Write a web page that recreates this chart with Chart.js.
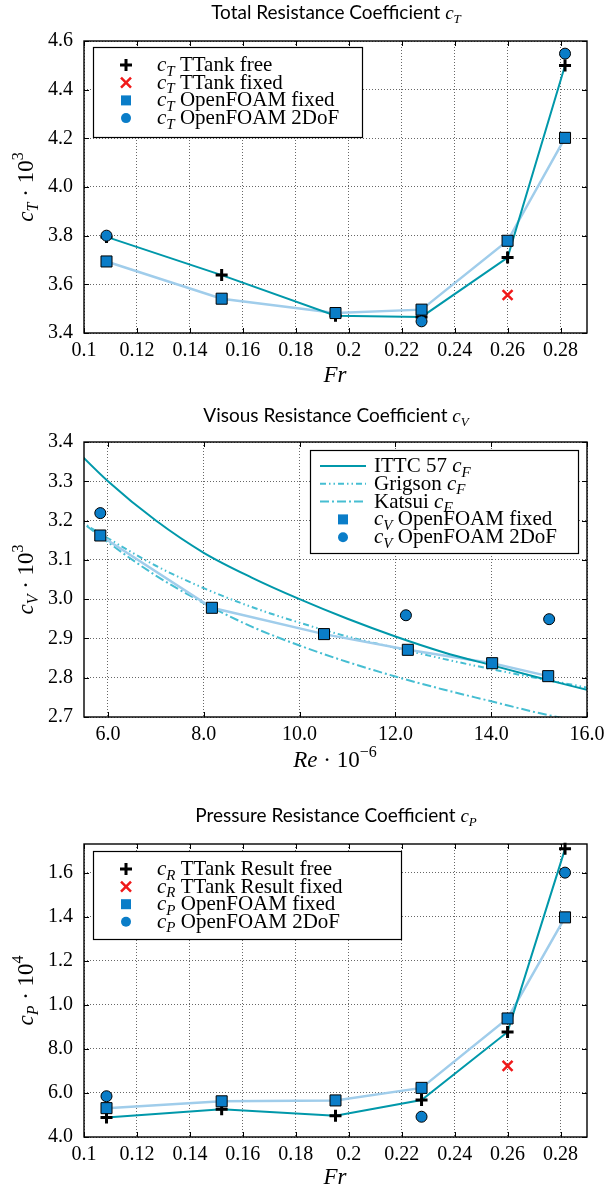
<!DOCTYPE html>
<html>
<head>
<meta charset="utf-8">
<script src="https://cdn.jsdelivr.net/npm/chart.js@4/dist/chart.umd.min.js"></script>
<style>
  body { margin: 0; background: #fff; width: 611px; height: 1189px; overflow: hidden; }
  canvas { display: block; }
</style>
</head>
<body>
<canvas id="ct" width="611" height="395"></canvas>
<canvas id="cv" width="611" height="395"></canvas>
<canvas id="cp" width="611" height="399"></canvas>
<script>
// --- data ---
const fr = [0.1085, 0.152, 0.195, 0.2275, 0.26, 0.2817];

// total resistance c_T * 10^3
const ctTankFree  = [3.795, 3.638, 3.471, 3.466, 3.710, 4.499];
const ctTankFixed = [null, null, null, null, 3.556, null];
const ctFoamFixed = [3.694, 3.541, 3.482, 3.496, 3.779, 4.202];
const ctFoam2DoF  = [3.800, null, null, 3.448, null, 4.548];

// viscous resistance c_V * 10^3 over Re * 10^-6
const reFoam      = [5.84, 8.17, 10.51, 12.26, 14.02, 15.19];
const cvFoamFixed = [3.162, 2.978, 2.911, 2.871, 2.837, 2.804];
const re2DoF      = [5.84, 12.22, 15.21];
const cvFoam2DoF  = [3.219, 2.959, 2.949];
const reCurve     = [5, 6, 7, 8, 9, 10, 11, 12, 13, 14, 15, 16];
const cfIttc      = [3.420, 3.300, 3.200, 3.118, 3.055, 3.000, 2.950, 2.905, 2.865, 2.832, 2.800, 2.769];
const cfGrigson   = [3.230, 3.155, 3.085, 3.028, 2.980, 2.940, 2.905, 2.876, 2.848, 2.822, 2.798, 2.775];
const cfKatsui    = [3.240, 3.145, 3.060, 2.990, 2.930, 2.882, 2.840, 2.803, 2.770, 2.740, 2.710, 2.685];

// pressure resistance c_P (axis labelled oddly in the original)
const cpTankFree  = [0.488, 0.526, 0.497, 0.568, 0.877, 1.708];
const cpTankFixed = [null, null, null, null, 0.723, null];
const cpFoamFixed = [0.531, 0.562, 0.566, 0.623, 0.938, 1.397];
const cpFoam2DoF  = [0.585, null, null, 0.492, null, 1.600];

// tick labels
const frTickLabels = ['0.1', '0.12', '0.14', '0.16', '0.18', '0.2', '0.22', '0.24', '0.26', '0.28'];
const ctTickLabels = ['3.4', '3.6', '3.8', '4.0', '4.2', '4.4', '4.6'];
const reTickLabels = ['6.0', '8.0', '10.0', '12.0', '14.0', '16.0'];
const cvTickLabels = ['2.7', '2.8', '2.9', '3.0', '3.1', '3.2', '3.3', '3.4'];
const cpTickValues = [0.4, 0.6, 0.8, 1.0, 1.2, 1.4, 1.6];
const cpTickLabels = ['4.0', '6.0', '8.0', '1.0', '1.2', '1.4', '1.6'];

// legend texts: [text, style] with i=italic, b=italic subscript, p=superscript, s=sans
const ctLegend = [
  [['c', 'i'], ['T', 'b'], [' TTank free', 'n']],
  [['c', 'i'], ['T', 'b'], [' TTank fixed', 'n']],
  [['c', 'i'], ['T', 'b'], [' OpenFOAM fixed', 'n']],
  [['c', 'i'], ['T', 'b'], [' OpenFOAM 2DoF', 'n']]
];
const cvLegend = [
  [['ITTC 57 ', 'n'], ['c', 'i'], ['F', 'b']],
  [['Grigson ', 'n'], ['c', 'i'], ['F', 'b']],
  [['Katsui ', 'n'], ['c', 'i'], ['F', 'b']],
  [['c', 'i'], ['V', 'b'], [' OpenFOAM fixed', 'n']],
  [['c', 'i'], ['V', 'b'], [' OpenFOAM 2DoF', 'n']]
];
const cpLegend = [
  [['c', 'i'], ['R', 'b'], [' TTank Result free', 'n']],
  [['c', 'i'], ['R', 'b'], [' TTank Result fixed', 'n']],
  [['c', 'i'], ['P', 'b'], [' OpenFOAM fixed', 'n']],
  [['c', 'i'], ['P', 'b'], [' OpenFOAM 2DoF', 'n']]
];

const SERIF = '"Liberation Serif", "Times New Roman", serif';
const SANS = 'Lato, "Open Sans", sans-serif';
const TEAL = 'rgb(0,152,170)';
const CYAN = 'rgb(70,190,210)';
const LIGHT = 'rgb(160,205,235)';
const MARK = 'rgb(10,125,200)';
const RED = 'rgb(240,25,25)';
const DASH_GRIGSON = [6, 3, 1.5, 3, 1.5, 3];
const DASH_KATSUI = [9, 3, 2, 3];

const pts = (xs, ys) => xs.map((x, i) => ({ x, y: ys[i] })).filter(p => p.y !== null);

function rich(ctx, parts, x, y, size, align) {
  const spec = st => {
    if (st === 'i') return { f: `italic ${size}px ${SERIF}`, dy: 0 };
    if (st === 'b') return { f: `italic ${Math.round(size * 0.7)}px ${SERIF}`, dy: size * 0.22 };
    if (st === 'p') return { f: `${Math.round(size * 0.7)}px ${SERIF}`, dy: -size * 0.42 };
    if (st === 's') return { f: `${size}px ${SANS}`, dy: 0 };
    return { f: `${size}px ${SERIF}`, dy: 0 };
  };
  let w = 0;
  const items = parts.map(([t, st]) => {
    const s = spec(st);
    ctx.font = s.f;
    const m = ctx.measureText(t).width;
    w += m;
    return { t, s, m };
  });
  let cx = align === 'center' ? x - w / 2 : align === 'right' ? x - w : x;
  ctx.textAlign = 'left';
  ctx.textBaseline = 'alphabetic';
  ctx.fillStyle = '#000';
  items.forEach(it => {
    ctx.font = it.s.f;
    ctx.fillText(it.t, cx, y + it.s.dy);
    cx += it.m;
  });
}

function drawSym(ctx, kind, x, y) {
  ctx.save();
  ctx.setLineDash([]);
  if (kind === 'cross') {
    ctx.strokeStyle = '#000'; ctx.lineWidth = 3;
    ctx.beginPath(); ctx.moveTo(x - 6, y); ctx.lineTo(x + 6, y); ctx.moveTo(x, y - 6); ctx.lineTo(x, y + 6); ctx.stroke();
  } else if (kind === 'x') {
    ctx.strokeStyle = RED; ctx.lineWidth = 2.5;
    ctx.beginPath(); ctx.moveTo(x - 5, y - 5); ctx.lineTo(x + 5, y + 5); ctx.moveTo(x + 5, y - 5); ctx.lineTo(x - 5, y + 5); ctx.stroke();
  } else if (kind === 'rect') {
    ctx.fillStyle = MARK; ctx.fillRect(x - 5, y - 5, 10, 10);
  } else if (kind === 'circle') {
    ctx.fillStyle = MARK; ctx.beginPath(); ctx.arc(x, y, 5, 0, Math.PI * 2); ctx.fill();
  } else {
    ctx.strokeStyle = kind.color; ctx.lineWidth = 2; ctx.setLineDash(kind.dash);
    ctx.beginPath(); ctx.moveTo(x - 23, y); ctx.lineTo(x + 23, y); ctx.stroke();
  }
  ctx.restore();
}

function axis(min, max, vals, labels, size, pad) {
  return {
    type: 'linear', min, max,
    afterBuildTicks: s => { s.ticks = vals.map(v => ({ value: v })); },
    afterFit: s => { if (s.isHorizontal()) s.height = size; else s.width = size; },
    grid: { color: 'rgba(0,0,0,0.75)', lineWidth: 0.8, drawTicks: false },
    border: { display: false, dash: [1, 2] },
    ticks: {
      autoSkip: false, maxRotation: 0, padding: pad, color: '#000',
      font: { family: SERIF, size: 20 },
      callback: (v, i) => labels[i]
    }
  };
}

const lineDs = (data, color, width, order, dash, curve) => ({
  data, showLine: true, borderColor: color, borderWidth: width, pointRadius: 0,
  order, borderDash: dash || [], cubicInterpolationMode: curve ? 'monotone' : 'default'
});
const MARKERS = {
  cross: { pointStyle: 'cross', pointRadius: 6, borderColor: '#000', pointBorderWidth: 3 },
  x: { pointStyle: 'crossRot', pointRadius: 7, borderColor: RED, pointBorderWidth: 2.5 },
  rect: { pointStyle: 'rect', pointRadius: 7.8, backgroundColor: MARK, borderColor: '#000', pointBorderWidth: 1 },
  circle: { pointStyle: 'circle', pointRadius: 5.5, backgroundColor: MARK, borderColor: '#000', pointBorderWidth: 1 }
};
const markDs = (data, kind, order) => Object.assign({ data, showLine: false, order, clip: false }, MARKERS[kind]);

function makeChart(id, cfg) {
  const canvas = document.getElementById(id);
  const H = canvas.height;
  const deco = {
    id: 'deco',
    afterDraw(chart) {
      const ctx = chart.ctx, a = chart.chartArea;
      const sx = chart.scales.x, sy = chart.scales.y;
      ctx.save();
      ctx.setLineDash([]);
      ctx.strokeStyle = '#000';
      ctx.lineWidth = 1;
      ctx.beginPath();
      sx.ticks.forEach(t => {
        const p = Math.round(sx.getPixelForValue(t.value)) + 0.5;
        ctx.moveTo(p, a.bottom); ctx.lineTo(p, a.bottom - 5);
        ctx.moveTo(p, a.top); ctx.lineTo(p, a.top + 5);
      });
      sy.ticks.forEach(t => {
        const p = Math.round(sy.getPixelForValue(t.value)) + 0.5;
        ctx.moveTo(a.left, p); ctx.lineTo(a.left + 5, p);
        ctx.moveTo(a.right, p); ctx.lineTo(a.right - 5, p);
      });
      ctx.stroke();
      ctx.lineWidth = 1.4;
      ctx.strokeRect(a.left, a.top, a.right - a.left, a.bottom - a.top);

      // titles
      rich(ctx, cfg.title, 336, cfg.titleY, 19, 'center');
      rich(ctx, cfg.xTitle, 335, cfg.xTitleY, 23, 'center');
      ctx.save();
      ctx.translate(33, (a.top + a.bottom) / 2);
      ctx.rotate(-Math.PI / 2);
      rich(ctx, cfg.yTitle, 0, 0, 23, 'center');
      ctx.restore();

      // legend box inside the axes
      const L = cfg.legend;
      ctx.fillStyle = '#fff';
      ctx.fillRect(L.x, L.y, L.w, L.h);
      ctx.lineWidth = 1.2;
      ctx.strokeStyle = '#000';
      ctx.strokeRect(L.x + 0.5, L.y + 0.5, L.w, L.h);
      L.labels.forEach((parts, i) => {
        const ry = L.row0 + i * L.dy;
        drawSym(ctx, L.kinds[i], L.markX, ry);
        rich(ctx, parts, L.textX, ry + 6, 21, 'left');
      });
      ctx.restore();
    }
  };
  return new Chart(canvas, {
    type: 'scatter',
    data: { datasets: cfg.datasets },
    options: {
      responsive: false, animation: false, devicePixelRatio: 1, events: [],
      layout: { padding: { top: cfg.top, right: 24, left: 0, bottom: 0 } },
      plugins: { legend: { display: false }, tooltip: { enabled: false } },
      scales: {
        x: axis(cfg.xMin, cfg.xMax, cfg.xTicks, cfg.xLabels, H - cfg.bottom, cfg.xPad),
        y: axis(cfg.yMin, cfg.yMax, cfg.yTicks, cfg.yLabels, 84, 11)
      }
    },
    plugins: [deco]
  });
}

const frTicks = frTickLabels.map(Number);

makeChart('ct', {
  top: 41, bottom: 333, xPad: 6,
  xMin: 0.1, xMax: 0.29, xTicks: frTicks, xLabels: frTickLabels,
  yMin: 3.4, yMax: 4.6, yTicks: ctTickLabels.map(Number), yLabels: ctTickLabels,
  title: [['Total Resistance Coefficient ', 's'], ['c', 'i'], ['T', 'b']], titleY: 19,
  xTitle: [['Fr', 'i']], xTitleY: 382,
  yTitle: [['c', 'i'], ['T', 'b'], [' \u00b7 10', 'n'], ['3', 'p']],
  legend: { x: 93, y: 47, w: 269, h: 90, row0: 65, dy: 17.7, markX: 126, textX: 157,
            labels: ctLegend, kinds: ['cross', 'x', 'rect', 'circle'] },
  datasets: [
    lineDs(pts(fr, ctFoamFixed), LIGHT, 2.5, 6),
    lineDs(pts(fr, ctTankFree), TEAL, 2, 5),
    markDs(pts(fr, ctTankFree), 'cross', 4),
    markDs(pts(fr, ctTankFixed), 'x', 3),
    markDs(pts(fr, ctFoamFixed), 'rect', 2),
    markDs(pts(fr, ctFoam2DoF), 'circle', 1)
  ]
});

makeChart('cv', {
  top: 47, bottom: 322, xPad: 6,
  xMin: 5.5, xMax: 16, xTicks: reTickLabels.map(Number), xLabels: reTickLabels,
  yMin: 2.7, yMax: 3.4, yTicks: cvTickLabels.map(Number), yLabels: cvTickLabels,
  title: [['Visous Resistance Coefficient ', 's'], ['c', 'i'], ['V', 'b']], titleY: 27,
  xTitle: [['Re', 'i'], [' \u00b7 10', 'n'], ['\u22126', 'p']], xTitleY: 372,
  yTitle: [['c', 'i'], ['V', 'b'], [' \u00b7 10', 'n'], ['3', 'p']],
  legend: { x: 310, y: 55, w: 268, h: 103, row0: 71, dy: 17.8, markX: 343, textX: 374,
            labels: cvLegend,
            kinds: [{ color: TEAL, dash: [] }, { color: CYAN, dash: DASH_GRIGSON }, { color: CYAN, dash: DASH_KATSUI }, 'rect', 'circle'] },
  datasets: [
    lineDs(pts(reCurve, cfKatsui), CYAN, 2, 7, DASH_KATSUI, true),
    lineDs(pts(reCurve, cfGrigson), CYAN, 2, 6, DASH_GRIGSON, true),
    lineDs(pts(reFoam, cvFoamFixed), LIGHT, 2.5, 5),
    lineDs(pts(reCurve, cfIttc), TEAL, 2, 4, [], true),
    markDs(pts(reFoam, cvFoamFixed), 'rect', 2),
    markDs(pts(re2DoF, cvFoam2DoF), 'circle', 1)
  ]
});

makeChart('cp', {
  top: 54, bottom: 347, xPad: 6,
  xMin: 0.1, xMax: 0.29, xTicks: frTicks, xLabels: frTickLabels,
  yMin: 0.4, yMax: 1.73, yTicks: cpTickValues, yLabels: cpTickLabels,
  title: [['Pressure Resistance Coefficient ', 's'], ['c', 'i'], ['P', 'b']], titleY: 32,
  xTitle: [['Fr', 'i']], xTitleY: 394,
  yTitle: [['c', 'i'], ['P', 'b'], [' \u00b7 10', 'n'], ['4', 'p']],
  legend: { x: 93, y: 61, w: 308, h: 88, row0: 79, dy: 17.6, markX: 126, textX: 157,
            labels: cpLegend, kinds: ['cross', 'x', 'rect', 'circle'] },
  datasets: [
    lineDs(pts(fr, cpFoamFixed), LIGHT, 2.5, 6),
    lineDs(pts(fr, cpTankFree), TEAL, 2, 5),
    markDs(pts(fr, cpTankFree), 'cross', 4),
    markDs(pts(fr, cpTankFixed), 'x', 3),
    markDs(pts(fr, cpFoamFixed), 'rect', 2),
    markDs(pts(fr, cpFoam2DoF), 'circle', 1)
  ]
});
</script>
</body>
</html>
